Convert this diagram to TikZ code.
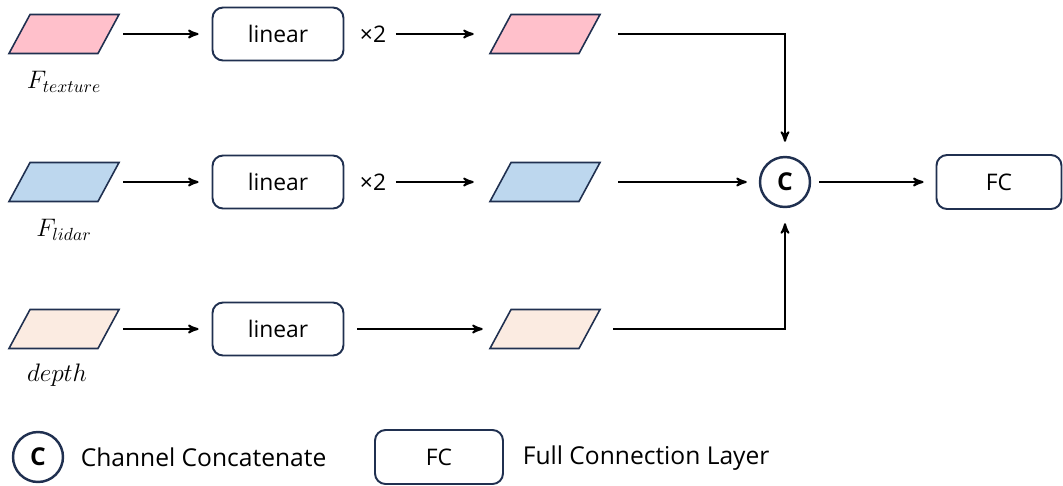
\documentclass[tikz,border=0pt]{standalone}
\usepackage{xcolor}
\usepackage{fontspec}
\setmainfont{Open Sans}
\usepackage{tikz}
\usetikzlibrary{arrows}
\usepackage{amsmath}

\definecolor{navy}{RGB}{32,48,80}
\definecolor{pinkfill}{RGB}{255,192,203}
\definecolor{bluefill}{RGB}{189,215,238}
\definecolor{peachfill}{RGB}{251,235,225}

\begin{document}
\begin{tikzpicture}[x=0.02cm, y=-0.02cm,
			>=stealth',
			line width=1.1pt,
			feat/.style={rectangle, xslant=0.54, minimum width=1.78cm, minimum height=0.78cm,
				inner sep=0pt, draw=navy, line width=0.9pt},
			layer/.style={rectangle, rounded corners=6pt, draw=navy, line width=1.1pt,
				minimum width=2.62cm, minimum height=1.06cm,
				font=\fontsize{13}{15}\selectfont},
			concat/.style={circle, draw=navy, line width=1.4pt, minimum size=1.0cm,
				inner sep=0pt, font=\fontsize{14}{16}\selectfont\bfseries},
			lbl/.style={font=\Large},
			legtxt/.style={anchor=west, font=\fontsize{14}{17}\selectfont}]

			\useasboundingbox (0,0) rectangle (1063,485);

			% input features
			\node[feat, fill=pinkfill] (tex) at (64,34) {};
			\node[feat, fill=bluefill] (lid) at (64,182) {};
			\node[feat, fill=peachfill] (dep) at (64,329) {};
			\node[lbl] (ltex) at (64,82) {$F_{texture}$};
			\node[lbl] (llid) at (64,230) {$F_{lidar}$};
			\node[lbl] (ldep) at (57,375) {$depth$};

			% linear layers
			\node[layer] (lin1) at (278,34) {linear};
			\node[layer] (lin2) at (278,182) {linear};
			\node[layer] (lin3) at (278,329) {linear};
			\node[font=\fontsize{13}{15}\selectfont] (xa) at (373,34) {×2};
			\node[font=\fontsize{13}{15}\selectfont] (xb) at (373,182) {×2};

			% output features
			\node[feat, fill=pinkfill] (otex) at (545,34) {};
			\node[feat, fill=bluefill] (olid) at (545,182) {};
			\node[feat, fill=peachfill] (odep) at (545,329) {};

			\node[concat] (cat) at (785,182) {C};
			\node[layer, minimum width=2.5cm, minimum height=1.08cm] (fc) at (999,182) {FC};

			% connections
			\draw[->, shorten <=0.28cm, shorten >=0.26cm] (tex) -- (lin1);
			\draw[->, shorten <=0.28cm, shorten >=0.26cm] (lid) -- (lin2);
			\draw[->, shorten <=0.28cm, shorten >=0.26cm] (dep) -- (lin3);
			\draw[->, shorten <=0.06cm, shorten >=0.52cm] (xa) -- (otex);
			\draw[->, shorten <=0.06cm, shorten >=0.52cm] (xb) -- (olid);
			\draw[->, shorten <=0.26cm, shorten >=0.34cm] (lin3) -- (odep);
			\draw[->, shorten <=0.56cm, shorten >=0.28cm] (otex.east) -| (cat.north);
			\draw[->, shorten <=0.56cm, shorten >=0.24cm] (olid) -- (cat);
			\draw[->, shorten <=0.46cm, shorten >=0.3cm] (odep.east) -| (cat.south);
			\draw[->, shorten <=0.16cm, shorten >=0.24cm] (cat) -- (fc);

			% legend
			\node[concat] (lcat) at (38,457) {C};
			\node[legtxt] (lcattxt) at (74,457) {Channel Concatenate};
			\node[layer, minimum width=2.56cm, minimum height=1.08cm] (lfc) at (439,457) {FC};
			\node[legtxt] (lfctxt) at (516,458) {Full Connection Layer};
		\end{tikzpicture}
\end{document}
